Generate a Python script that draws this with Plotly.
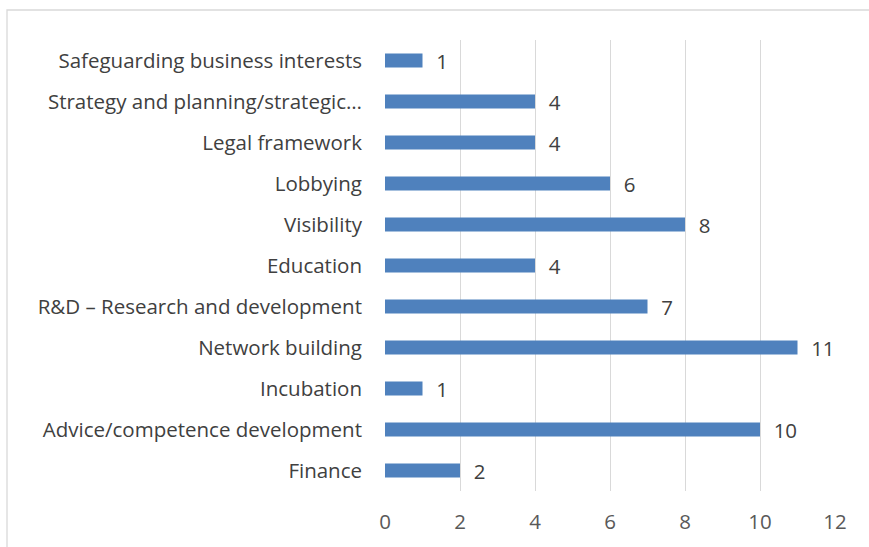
import plotly.graph_objects as go

# Support areas and number of mentions (listed bottom to top)
categories = [
    "Finance",
    "Advice/competence development",
    "Incubation",
    "Network building",
    "R&D – Research and development",
    "Education",
    "Visibility",
    "Lobbying",
    "Legal framework",
    "Strategy and planning/strategic…",
    "Safeguarding business interests",
]
counts = [2, 10, 1, 11, 7, 4, 8, 6, 4, 4, 1]
x_ticks = [0, 2, 4, 6, 8, 10, 12]

W, H = 869, 547
L, R, T, B = 385, 34, 40, 56
pw, ph = W - L - R, H - T - B
FONT = "Open Sans, Lato, sans-serif"
SIZE = 20.5

fig = go.Figure(
    go.Bar(
        x=counts,
        y=categories,
        orientation="h",
        width=0.34,
        marker=dict(color="#4F81BD", line=dict(width=0)),
        text=[f"  {v}" for v in counts],
        textposition="outside",
        constraintext="none",
        textfont=dict(family=FONT, size=SIZE, color="#404040"),
        cliponaxis=False,
        hoverinfo="x+y",
    )
)

# light frame around the chart area
fig.add_shape(
    type="rect",
    xref="paper", yref="paper",
    x0=(7 - L) / pw, x1=(W + 5 - L) / pw,
    y0=(H - B - (H + 5)) / ph, y1=(H - B - 10) / ph,
    line=dict(color="#D9D9D9", width=1.3),
    fillcolor="rgba(0,0,0,0)",
    layer="below",
)

fig.update_layout(
    width=W, height=H,
    margin=dict(l=L, r=R, t=T, b=B),
    paper_bgcolor="white",
    plot_bgcolor="white",
    showlegend=False,
    font=dict(family=FONT, size=SIZE, color="#595959"),
    bargap=0.66,
)
fig.update_xaxes(
    range=[0, 12],
    tickvals=x_ticks,
    showgrid=True,
    gridcolor="#D9D9D9",
    gridwidth=1.3,
    zeroline=False,
    showline=False,
    ticks="",
    ticklabelstandoff=16,
    tickfont=dict(family=FONT, size=SIZE, color="#595959"),
    fixedrange=True,
)
fig.update_yaxes(
    categoryorder="array",
    categoryarray=categories,
    showgrid=False,
    zeroline=False,
    showline=False,
    ticks="",
    ticklabelstandoff=22,
    tickfont=dict(family=FONT, size=SIZE, color="#404040"),
    fixedrange=True,
)

fig.write_html("out.html")
